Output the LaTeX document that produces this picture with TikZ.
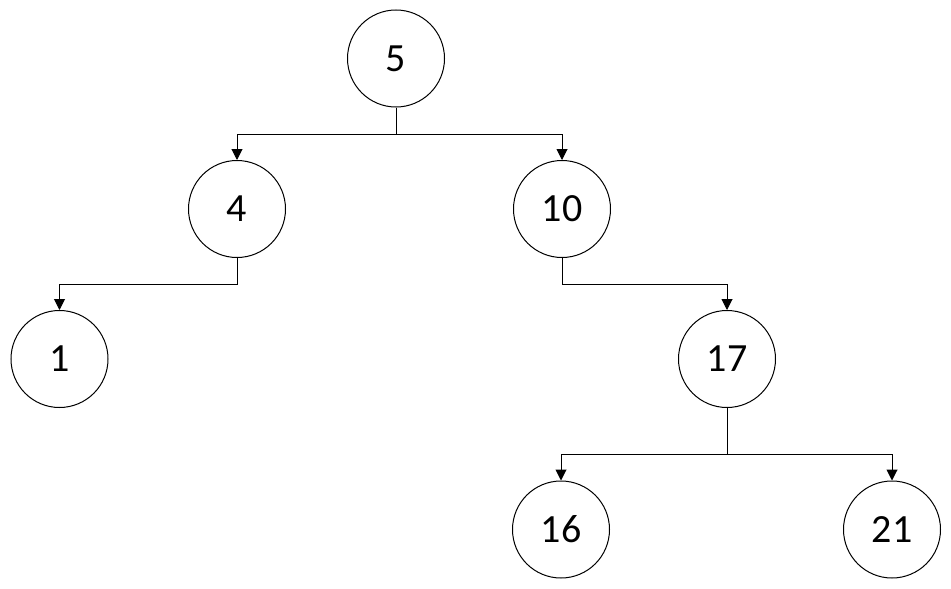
\documentclass[tikz,border=0pt]{standalone}
\usepackage{fontspec}
\setmainfont{Carlito}
\usetikzlibrary{arrows.meta}
\begin{document}
\begin{tikzpicture}[x=1pt,y=-1pt,
  treenode/.style={draw, line width=1pt, circle, minimum size=97pt, inner sep=0pt, font=\fontsize{40}{42}\selectfont},
  link/.style={line width=1pt, -{Triangle[length=11pt,width=11pt]}}]
\useasboundingbox (0,0) rectangle (951,589);
\node[treenode] (n5)  at (396,58.5) {5};
\node[treenode] (n4)  at (237,209) {4};
\node[treenode] (n10) at (562,209) {10};
\node[treenode] (n1)  at (59.5,359) {1};
\node[treenode] (n17) at (727,359) {17};
\node[treenode] (n16) at (561,529.5) {16};
\node[treenode] (n21) at (892,529.5) {21};
% elbow connectors from parent to children
\draw[link] (n5.south) |- (396,134) -| (n4.north);
\draw[link] (n5.south) |- (396,134) -| (n10.north);
\draw[link] (n4.south) |- (237,284) -| (n1.north);
\draw[link] (n10.south) |- (562,284) -| (n17.north);
\draw[link] (n17.south) |- (727,454) -| (n16.north);
\draw[link] (n17.south) |- (727,454) -| (n21.north);
\end{tikzpicture}
\end{document}
